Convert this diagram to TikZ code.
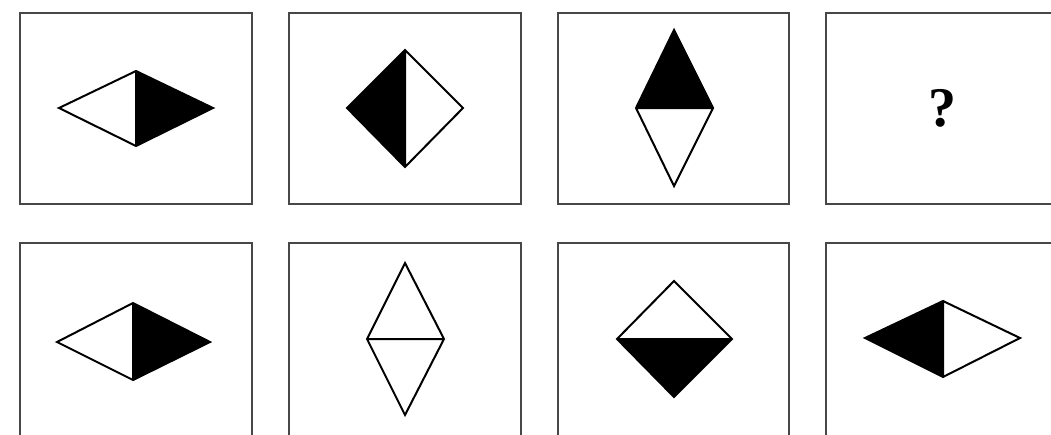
\documentclass[tikz,border=0pt]{standalone}
\usepackage{fontspec}
\setmainfont{Liberation Serif}
\begin{document}
\begin{tikzpicture}[x=1pt,y=-1pt,
  panel/.style={draw=black!72,line width=2.8pt},
  shapeline/.style={draw=black,line width=2pt,line join=miter},
  blackfill/.style={fill=black}]
\useasboundingbox (0,0) rectangle (1051,434);
\begin{scope}
\clip (0,0) rectangle (1051,434);
% panels
\draw[panel] (20,13) rectangle (252,204);
\draw[panel] (289,13) rectangle (521,204);
\draw[panel] (558,13) rectangle (789,204);
\draw[panel] (826,13) rectangle (1058,204);
\draw[panel] (20,243) rectangle (252,445);
\draw[panel] (289,243) rectangle (521,445);
\draw[panel] (558,243) rectangle (789,445);
\draw[panel] (826,243) rectangle (1058,445);
\end{scope}
% 1: right half black
\coordinate (a1t) at (136,71); \coordinate (a1b) at (136,146);
\coordinate (a1l) at (59,108); \coordinate (a1r) at (213,108);
\fill[blackfill] (a1t) -- (a1r) -- (a1b) -- cycle;
\draw[shapeline] (a1t) -- (a1r) -- (a1b) -- (a1l) -- cycle (a1t) -- (a1b);
% 2: left half black
\coordinate (a2t) at (405,50); \coordinate (a2b) at (405,167);
\coordinate (a2l) at (347,108); \coordinate (a2r) at (463,108);
\fill[blackfill] (a2t) -- (a2l) -- (a2b) -- cycle;
\draw[shapeline] (a2t) -- (a2r) -- (a2b) -- (a2l) -- cycle (a2t) -- (a2b);
% 3: top half black
\coordinate (a3t) at (674,30); \coordinate (a3b) at (674,186);
\coordinate (a3l) at (636,108); \coordinate (a3r) at (713,108);
\fill[blackfill] (a3t) -- (a3l) -- (a3r) -- cycle;
\draw[shapeline] (a3t) -- (a3r) -- (a3b) -- (a3l) -- cycle (a3l) -- (a3r);
% 4: question mark
\node[font=\fontsize{56}{56}\selectfont\bfseries,inner sep=0pt] (q) at (942,108) {?};
% 5: right half black
\coordinate (b1t) at (133,303); \coordinate (b1b) at (133,380);
\coordinate (b1l) at (57,342); \coordinate (b1r) at (210,342);
\fill[blackfill] (b1t) -- (b1r) -- (b1b) -- cycle;
\draw[shapeline] (b1t) -- (b1r) -- (b1b) -- (b1l) -- cycle (b1t) -- (b1b);
% 6: all white, horizontal line
\coordinate (b2t) at (405,263); \coordinate (b2b) at (405,415);
\coordinate (b2l) at (367,339); \coordinate (b2r) at (444,339);
\draw[shapeline] (b2t) -- (b2r) -- (b2b) -- (b2l) -- cycle (b2l) -- (b2r);
% 7: bottom half black
\coordinate (b3t) at (674,281); \coordinate (b3b) at (674,397);
\coordinate (b3l) at (617,339); \coordinate (b3r) at (732,339);
\fill[blackfill] (b3l) -- (b3r) -- (b3b) -- cycle;
\draw[shapeline] (b3t) -- (b3r) -- (b3b) -- (b3l) -- cycle (b3l) -- (b3r);
% 8: left half black
\coordinate (b4t) at (943,301); \coordinate (b4b) at (943,377);
\coordinate (b4l) at (865,338); \coordinate (b4r) at (1020,338);
\fill[blackfill] (b4t) -- (b4l) -- (b4b) -- cycle;
\draw[shapeline] (b4t) -- (b4r) -- (b4b) -- (b4l) -- cycle (b4t) -- (b4b);
\end{tikzpicture}
\end{document}
